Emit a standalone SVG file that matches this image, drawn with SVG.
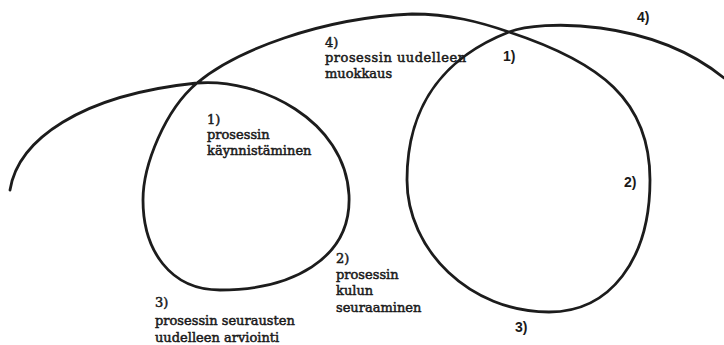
<svg xmlns="http://www.w3.org/2000/svg" width="724" height="345" viewBox="0 0 724 345">
<style>
.curve{fill:none;stroke:#1c1c1c;stroke-width:2.8;stroke-linecap:round;stroke-linejoin:round}
.lbl{font-family:"DejaVu Serif","Liberation Serif",serif;font-size:13px;fill:#1a1a1a;stroke:#1a1a1a;stroke-width:0.5}
.num{font-family:"Liberation Sans",Arial,sans-serif;font-weight:bold;font-size:14px;fill:#1a1a1a}
</style>
<rect width="724" height="345" fill="#ffffff"/>
<g id="connectors">
<path class="curve" d="M10,190 C18,140 80,95 197,83 C260,78 345,120 349,195 C352,260 290,290 220,290 C170,290 143,250 143,200 C143,165 165,110 197,83 C235,51 320,18 412,14 C450,14 480,22 509,32 C600,62 650,100 650,180 C650,260 610,312 549,312 C470,312 407,250 407,180 C407,100 450,55 509,32 C540,20 650,18 724,78"/>
</g>
<g id="step1-start">
<text class="lbl" x="207" y="124">1)</text>
<text class="lbl" x="207" y="139">prosessin</text>
<text class="lbl" x="207" y="155">käynnistäminen</text>
</g>
<g id="step2-follow">
<text class="lbl" x="336" y="263">2)</text>
<text class="lbl" x="336" y="279">prosessin</text>
<text class="lbl" x="336" y="295">kulun</text>
<text class="lbl" x="336" y="312">seuraaminen</text>
</g>
<g id="step3-evaluate">
<text class="lbl" x="155" y="307">3)</text>
<text class="lbl" x="155" y="325">prosessin seurausten</text>
<text class="lbl" x="155" y="342">uudelleen arviointi</text>
</g>
<g id="step4-modify">
<text class="lbl" x="325" y="47">4)</text>
<text class="lbl" x="325" y="62" textLength="141">prosessin uudelleen</text>
<text class="lbl" x="325" y="78">muokkaus</text>
</g>
<g id="cycle2-labels">
<text class="num" x="503" y="61">1)</text>
<text class="num" x="624" y="187">2)</text>
<text class="num" x="515" y="332">3)</text>
<text class="num" x="637" y="22">4)</text>
</g>
</svg>
